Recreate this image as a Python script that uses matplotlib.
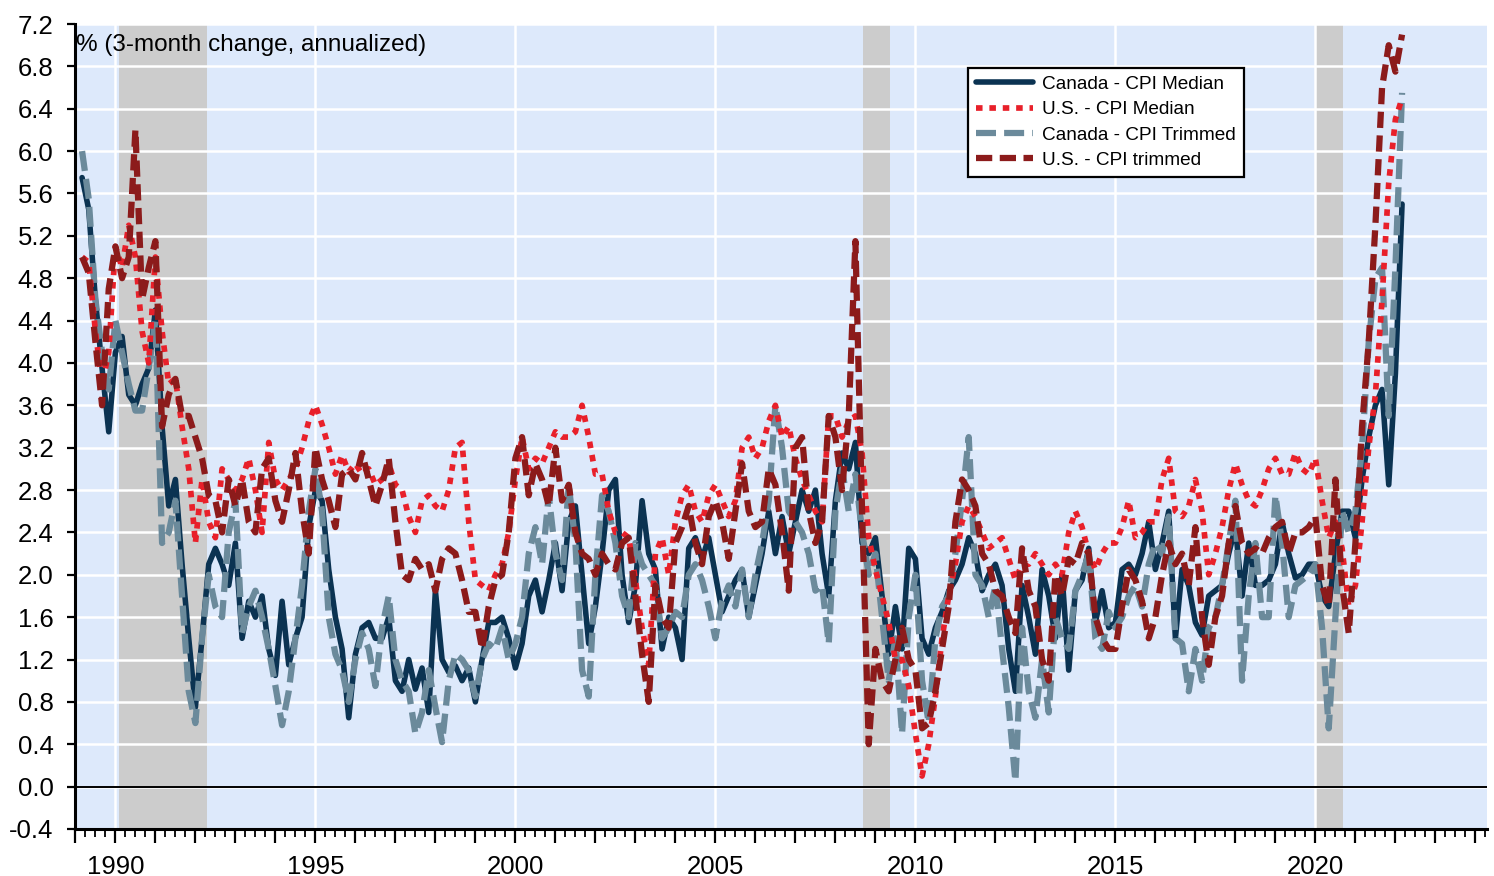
import numpy as np
import pandas as pd
import matplotlib
matplotlib.use("Agg")
import matplotlib.pyplot as plt
from matplotlib.ticker import FixedLocator, FuncFormatter, MultipleLocator

plt.rcParams['font.family'] = ['Liberation Sans', 'DejaVu Sans']

# ---------------- data (bi-monthly observations, Mar 1989 - Mar 2022) ----------------
dates = pd.date_range('1989-03-01', '2022-03-01', freq='2MS')

canada_median = [
    5.75, 5.45, 4.6, 3.95, 3.35,
    4.1, 4.25, 3.7, 3.6, 3.8, 3.95,
    4.5, 3.4, 2.65, 2.9, 2.1, 1.4,
    0.75, 1.4, 2.1, 2.25, 2.1, 1.9,
    2.3, 1.4, 1.75, 1.6, 1.8, 1.3,
    1.05, 1.75, 1.15, 1.4, 1.6, 2.45,
    2.8, 2.7, 2.05, 1.6, 1.3, 0.65,
    1.25, 1.5, 1.55, 1.4, 1.4, 1.6,
    1.0, 0.9, 1.2, 0.92, 1.12, 0.7,
    1.85, 1.2, 1.08, 1.14, 1.0, 1.12,
    0.8, 1.2, 1.55, 1.55, 1.6, 1.4,
    1.12, 1.35, 1.8, 1.95, 1.65, 1.95,
    2.3, 1.85, 2.5, 2.65, 2.0, 1.35,
    1.7, 2.2, 2.8, 2.9, 2.0, 1.55,
    1.9, 2.7, 2.2, 2.05, 1.3, 1.6,
    1.5, 1.2, 2.25, 2.35, 2.15, 2.35,
    2.0, 1.65, 1.8, 1.95, 2.05, 1.6,
    1.9, 2.2, 2.6, 2.2, 2.55, 2.2,
    2.5, 2.8, 2.6, 2.8, 2.2, 1.8,
    2.7, 3.15, 3.0, 3.25, 2.3, 2.2,
    2.35, 1.8, 1.25, 1.7, 1.3, 2.25,
    2.15, 1.4, 1.25, 1.5, 1.65, 1.85,
    1.95, 2.1, 2.35, 2.2, 1.85, 2.0,
    2.1, 1.9, 1.3, 0.9, 1.9, 1.6,
    1.25, 2.05, 1.8, 1.4, 2.0, 1.1,
    1.85, 1.95, 2.25, 1.55, 1.85, 1.5,
    1.55, 2.05, 2.1, 2.0, 2.2, 2.5,
    2.05, 2.3, 2.6, 1.4, 2.05, 1.9,
    1.55, 1.43, 1.8, 1.85, 1.9, 2.2,
    2.45, 1.8, 2.3, 1.9, 1.9, 1.95,
    2.1, 2.5, 2.2, 1.97, 2.0, 2.1,
    2.1, 1.8, 1.7, 2.2, 2.6, 2.6,
    2.35, 2.9, 3.3, 3.6, 3.75, 2.85,
    3.9, 5.5,
]

us_median = [
    5.0, 4.95, 4.3, 3.8, 4.1,
    5.1, 4.9, 5.3, 5.0, 4.3, 4.0,
    5.0, 4.3, 3.8, 3.85, 3.4, 3.0,
    2.3, 2.9, 2.5, 2.35, 3.0, 2.9,
    2.8, 2.9, 3.1, 2.8, 2.4, 3.25,
    2.9, 2.8, 2.9, 3.0, 3.2, 3.45,
    3.6, 3.42, 3.2, 2.95, 3.13, 2.97,
    3.05, 2.95, 3.0, 2.85, 2.9, 3.05,
    2.85, 2.8, 2.55, 2.4, 2.7, 2.75,
    2.65, 2.6, 2.8, 3.2, 3.25, 2.5,
    1.95, 1.9, 1.85, 2.0, 2.1, 2.4,
    2.9, 3.3, 3.0, 3.1, 3.05, 3.2,
    3.35, 3.3, 3.3, 3.35, 3.6, 3.3,
    2.95, 2.95, 2.6, 2.4, 2.4, 2.35,
    1.95, 1.5, 1.15, 2.2, 2.35, 2.0,
    2.5, 2.75, 2.85, 2.6, 2.5, 2.75,
    2.85, 2.7, 2.55, 2.7, 3.2, 3.3,
    3.1, 3.2, 3.45, 3.6, 3.3, 3.4,
    3.1, 2.9, 2.75, 2.6, 2.5, 3.5,
    3.5, 3.3, 3.45, 3.5, 3.15, 2.35,
    2.05, 1.8, 1.55, 1.2, 1.2, 0.95,
    0.5, 0.1, 0.4, 0.85, 1.4, 1.8,
    2.1, 2.5, 2.65, 2.55, 2.4, 2.25,
    2.3, 2.35, 2.15, 1.95, 2.1, 2.1,
    2.2, 2.1, 2.0, 2.1, 2.0, 2.4,
    2.6, 2.45, 2.2, 2.05, 2.2, 2.3,
    2.3, 2.45, 2.7, 2.35, 2.4, 2.5,
    2.5, 2.9, 3.1, 2.6, 2.55, 2.65,
    2.9, 2.6, 2.0, 2.2, 2.45, 2.8,
    3.05, 2.85, 2.7, 2.65, 2.8, 3.0,
    3.1, 2.95, 2.95, 3.15, 3.0, 2.95,
    3.1, 2.7, 2.35, 2.5, 2.25, 1.7,
    1.9, 2.5, 3.2, 3.7, 4.6, 5.7,
    6.3, 6.5,
]

canada_trimmed = [
    6.0, 5.55, 4.6, 4.1, 3.75,
    4.4, 4.1, 3.8, 3.55, 3.55, 3.95,
    4.4, 2.3, 2.4, 2.7, 1.8, 0.9,
    0.6, 1.4, 2.0, 1.7, 1.6, 2.4,
    2.7, 1.45, 1.7, 1.85, 1.6, 1.3,
    0.95, 0.58, 0.9, 1.4, 1.9, 2.6,
    3.0, 2.6, 1.6, 1.25, 1.1, 0.8,
    1.2, 1.45, 1.3, 0.95, 1.5, 1.8,
    1.2, 1.0, 0.9, 0.5, 0.7, 1.1,
    0.75, 0.42, 1.0, 1.25, 1.2, 1.1,
    0.85, 1.2, 1.35, 1.3, 1.5, 1.2,
    1.35, 1.6, 2.2, 2.45, 2.1, 2.75,
    2.2, 1.95, 2.85, 2.3, 1.1, 0.85,
    2.0, 2.75, 2.6, 2.3, 1.8, 1.6,
    2.3, 2.1, 2.0, 1.9, 1.4, 1.5,
    1.65, 1.6, 2.0, 2.1, 1.95, 1.7,
    1.4, 1.75, 1.9, 1.7, 2.05, 1.6,
    2.0, 2.3, 2.7, 3.6, 3.2, 2.6,
    2.5, 2.4, 2.2, 1.85, 1.9, 1.35,
    2.6, 3.0, 2.6, 2.95, 2.4, 2.0,
    2.2, 1.6, 1.0, 1.4, 0.5, 1.6,
    2.0, 1.0, 0.6, 1.4, 1.7, 1.8,
    2.2, 2.7, 3.3, 2.0, 1.9, 1.6,
    1.9, 1.3, 0.75, 0.05, 1.5, 0.9,
    0.65, 1.2, 0.7, 1.6, 1.4, 1.3,
    1.85, 2.0, 2.2, 1.4, 1.3, 1.65,
    1.5, 1.6, 1.8, 1.9, 1.7, 2.1,
    2.3, 2.2, 2.55, 1.4, 1.35, 0.9,
    1.3, 1.0, 1.5, 1.6, 1.9, 2.3,
    2.7, 1.0, 1.8, 2.3, 1.6, 1.6,
    2.75, 2.3, 1.6, 1.9, 1.95, 2.0,
    2.1, 1.5, 0.55, 1.6, 2.6, 2.4,
    2.6, 3.2, 4.2, 4.8, 4.9, 3.5,
    4.9, 6.55,
]

us_trimmed = [
    5.0, 4.85, 4.2, 3.6, 4.7,
    5.1, 4.8, 5.0, 6.2, 4.6, 4.9,
    5.15, 3.4, 3.7, 3.85, 3.5, 3.5,
    3.3, 3.1, 2.75, 2.7, 2.4, 2.9,
    2.65, 2.9, 2.5, 2.4, 3.0, 3.1,
    2.7, 2.5, 2.8, 3.15, 2.6, 2.2,
    3.2, 2.9, 2.7, 2.45, 2.95, 3.0,
    2.9, 3.15, 2.9, 2.65, 2.85, 3.1,
    2.5, 2.0, 1.95, 2.15, 2.05, 2.1,
    1.85, 2.15, 2.25, 2.2, 1.95, 1.65,
    1.65, 1.3, 1.7, 1.95, 2.0, 2.4,
    3.1, 3.3, 2.75, 3.05, 2.9, 2.65,
    3.2, 2.7, 2.85, 2.4, 2.2, 2.15,
    2.0, 2.2, 2.1, 2.05, 2.3, 2.35,
    1.8, 1.25, 0.8, 1.9, 1.6, 1.5,
    2.3, 2.45, 2.65, 2.3, 2.1, 2.55,
    2.7, 2.5, 2.15, 2.6, 3.05, 2.6,
    2.45, 2.5, 3.0, 2.85, 2.4, 1.85,
    3.2, 3.3, 2.6, 2.3, 2.5, 3.5,
    3.3, 2.8, 3.5, 5.15, 2.6, 0.4,
    1.3, 1.0, 0.9, 1.2, 1.5, 1.2,
    1.1, 0.55, 0.6, 0.9, 1.3, 1.7,
    2.5, 2.9, 2.8, 2.65, 2.2, 2.1,
    1.85, 1.8, 1.6, 1.45, 2.25, 1.85,
    1.7, 1.2, 1.0, 2.0, 1.8, 2.15,
    2.1, 2.3, 2.2, 1.6, 1.4, 1.3,
    1.3, 1.7, 2.05, 1.95, 1.75, 1.4,
    1.6, 2.0, 2.3, 2.1, 2.2, 1.9,
    2.45, 1.6, 1.15, 1.6, 1.8, 2.3,
    2.65, 2.3, 2.2, 2.25, 2.2, 2.35,
    2.45, 2.5, 2.2, 2.4, 2.4, 2.45,
    2.55, 1.9, 1.7, 2.9, 1.9, 1.45,
    2.3, 3.4, 4.2, 5.3, 6.6, 7.0,
    6.75, 7.1,
]

series_labels = ['Canada - CPI Median', 'U.S. - CPI Median',
                 'Canada - CPI Trimmed', 'U.S. - CPI trimmed']
recessions = [(1990.1, 1992.3), (2008.7, 2009.37), (2020.0, 2020.7)]
ytick_values = [round(-0.4 + 0.4 * i, 1) for i in range(20)]
label_years = [1990, 1995, 2000, 2005, 2010, 2015, 2020]
y_title = '% (3-month change, annualized)'

years = dates.year + (dates.month - 1) / 12.0

# ---------------- figure ----------------
W, H = 1494, 876
fig = plt.figure(figsize=(W / 100, H / 100), dpi=100)
ax = fig.add_axes([75 / W, 1 - 829 / H, 1412 / W, 805 / H])
ax.set_facecolor('#dde9fb')

for a, b in recessions:
    ax.axvspan(a, b, color='#cccccc', lw=0, zorder=0.3)

ax.set_axisbelow(True)
ax.yaxis.grid(True, color='white', lw=1.8, zorder=0.6)
for yr in label_years:
    ax.axvline(yr, color='white', lw=1.8, zorder=0.6)

ax.axhline(0, color='black', lw=1.4, zorder=2)

l1, = ax.plot(years, canada_median, color='#0b3352', lw=4.0,
              solid_joinstyle='round', solid_capstyle='round', zorder=3)
l3, = ax.plot(years, canada_trimmed, color='#6b8a9b', lw=4.5,
              dashes=(3.2, 1.3), dash_capstyle='butt', zorder=4)
l2, = ax.plot(years, us_median, color='#e8202a', lw=4.1,
              dashes=(1.15, 1.2), dash_capstyle='butt', zorder=5)
l4, = ax.plot(years, us_trimmed, color='#8c1b1b', lw=4.5,
              dashes=(2.6, 1.2), dash_capstyle='butt', zorder=6)

ax.set_xlim(1988.99, 2024.29)
ax.set_ylim(-0.4, 7.2)

ax.yaxis.set_major_locator(FixedLocator(ytick_values))
ax.yaxis.set_major_formatter(FuncFormatter(lambda v, p: f'{v:.1f}'.replace('-0.0', '0.0')))
ax.xaxis.set_major_locator(MultipleLocator(1))
ax.xaxis.set_minor_locator(MultipleLocator(0.25))
ax.xaxis.set_major_formatter(FuncFormatter(
    lambda v, p: f'{int(round(v))}' if int(round(v)) in label_years else ''))

ax.tick_params(axis='y', direction='out', length=6, width=1.6, pad=9.5,
               labelsize=18.5, colors='black')
ax.tick_params(axis='x', which='major', direction='out', length=10, width=1.6,
               pad=8.5, labelsize=18.5)
ax.tick_params(axis='x', which='minor', direction='out', length=5.5, width=1.3)

for s in ['top', 'right']:
    ax.spines[s].set_visible(False)
for s in ['left', 'bottom']:
    ax.spines[s].set_color('black')
    ax.spines[s].set_linewidth(2.2)
    ax.spines[s].set_zorder(7)

ax.text(0.001, 0.988, y_title, transform=ax.transAxes, ha='left', va='top',
        fontsize=17.5, zorder=8)

leg = ax.legend([l1, l2, l3, l4], series_labels, loc='upper left',
                bbox_to_anchor=(0.6324, 0.9453), borderaxespad=0,
                frameon=True, fancybox=False, edgecolor='black', facecolor='white',
                framealpha=1, fontsize=13.7, handlelength=3.0, handletextpad=0.5,
                labelspacing=0.42, borderpad=0.4)
leg.get_frame().set_linewidth(1.6)
leg.set_zorder(10)

fig.savefig('out.png', dpi=100)
